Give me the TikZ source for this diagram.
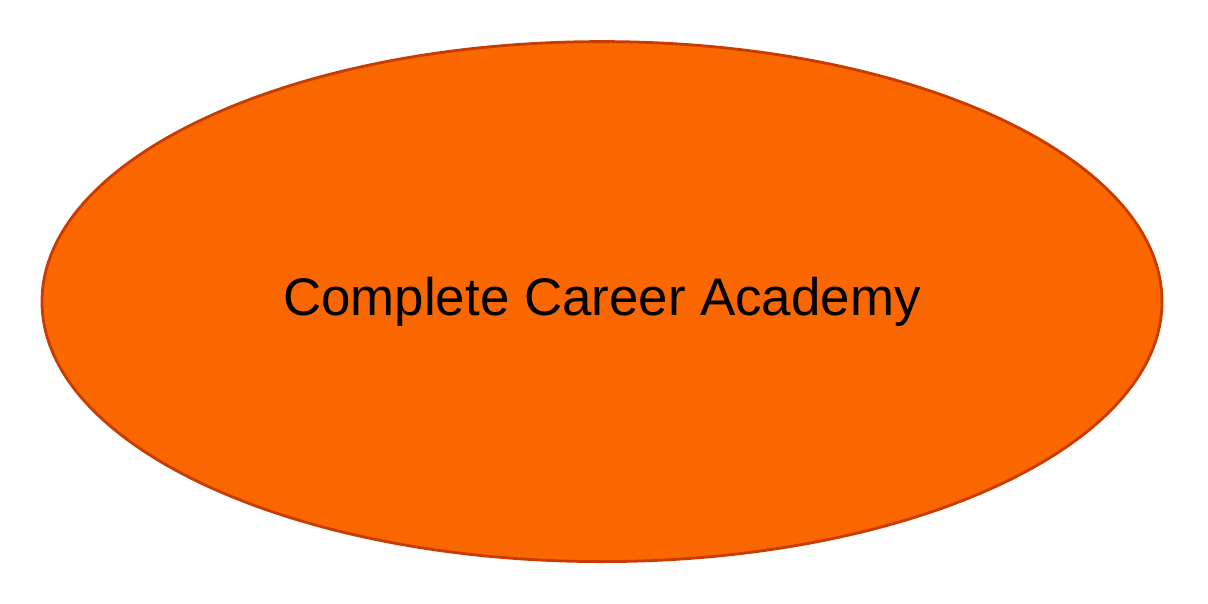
\documentclass[tikz,border=0pt]{standalone}
\usepackage{fontspec}
\setmainfont{Liberation Sans}
\usetikzlibrary{shapes.geometric}
\definecolor{academyfill}{HTML}{FA6600}
\definecolor{academyline}{HTML}{C83C00}

\begin{document}
\begin{tikzpicture}[
  every node/.style = {ellipse, draw=academyline, fill=academyfill, line width=2pt, inner sep=0pt},
  academy/.style = {minimum width=28cm, minimum height=13cm, font=\fontsize{37.6}{44}\selectfont}
]
  \useasboundingbox (0,0) rectangle (30.2,15.1);
  \node[academy] (academy) at (15.05,7.56) {\raisebox{-1.5pt}{Complete Career Academy}};
\end{tikzpicture}
\end{document}
